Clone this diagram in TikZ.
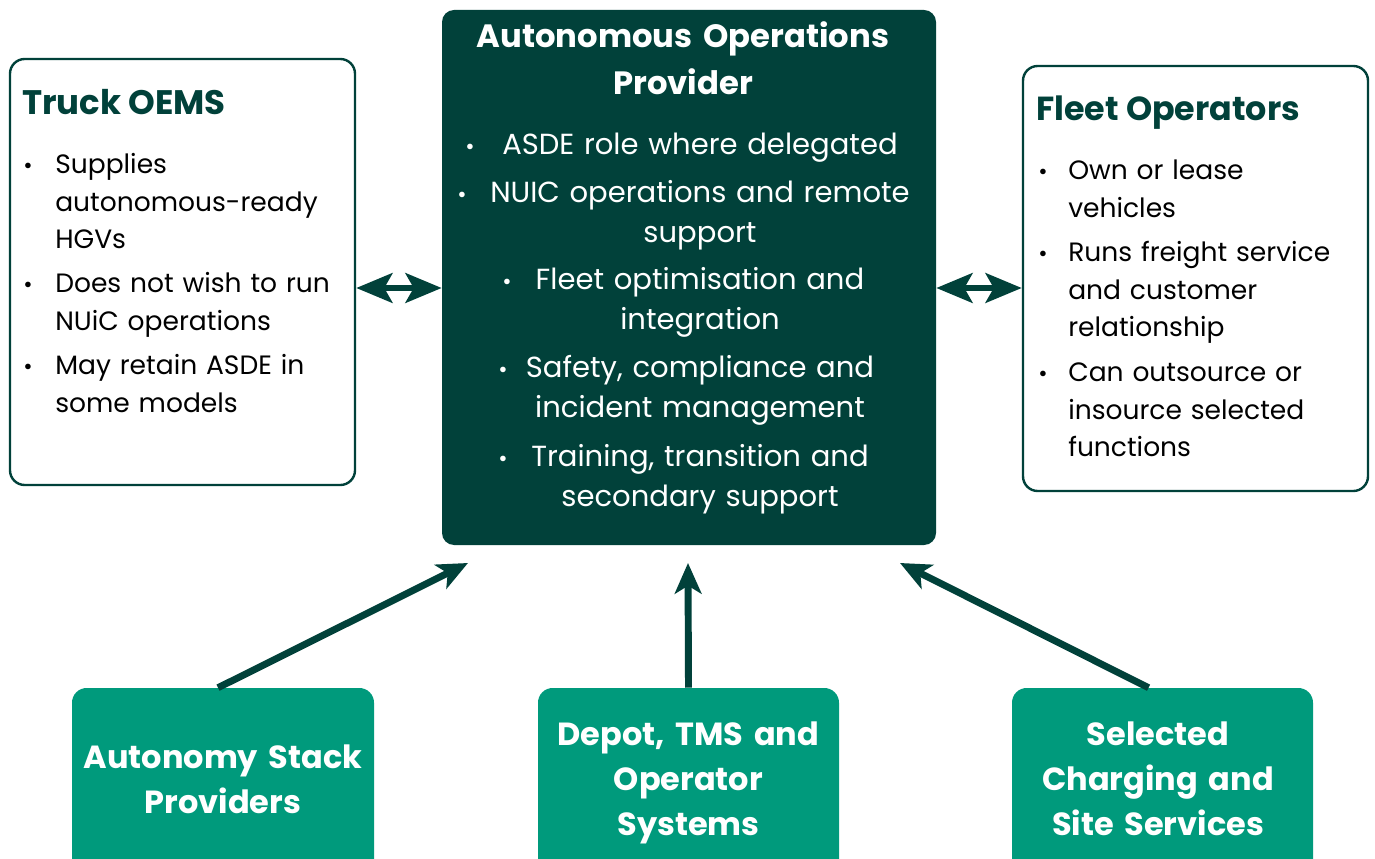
\documentclass[tikz,border=0pt]{standalone}
\usepackage{fontspec}
\setmainfont{Poppins}
\usetikzlibrary{arrows.meta}
\definecolor{aopgreen}{HTML}{01413A}
\definecolor{partnergreen}{HTML}{009A7C}

\begin{document}
\begin{tikzpicture}[x=0.75pt, y=-0.75pt,
    sidebox/.style={draw=aopgreen, line width=1.8pt, fill=white, rounded corners=11pt, inner sep=0pt},
    corebox/.style={fill=aopgreen, rounded corners=9pt, inner sep=0pt},
    partnerbox/.style={fill=partnergreen, rounded corners=11pt, inner sep=0pt},
    sidetitle/.style={font=\fontsize{25}{28}\selectfont\bfseries, text=aopgreen, anchor=base west, inner sep=0pt},
    item/.style={font=\fontsize{19.9}{28}\selectfont, anchor=base west, inner sep=0pt, text width=240pt, align=left},
    coreitem/.style={font=\fontsize{21.8}{30}\selectfont, text=white, anchor=base, inner sep=0pt, text width=340pt, align=center},
    dot/.style={font=\fontsize{17}{17}\selectfont, anchor=base, inner sep=0pt},
    partnertext/.style={font=\fontsize{24}{34}\selectfont\bfseries, text=white, anchor=base, inner sep=0pt, text width=220pt, align=center},
    link/.style={aopgreen, line width=5.2pt, {Stealth[length=27pt, width=22pt, inset=6pt]}-{Stealth[length=27pt, width=22pt, inset=6pt]}},
    feed/.style={aopgreen, line width=5.2pt, -{Stealth[length=23pt, width=20pt, inset=6pt]}}]

    % Fix the page size
    \useasboundingbox (0,0) rectangle (1375,859);

    % Draw the boxes
    \node[sidebox, minimum width=258.75pt, minimum height=319.5pt] (oem) at (182.5,272) {};
    \node[corebox, minimum width=370.5pt, minimum height=401.25pt] (aop) at (689,277.5) {};
    \node[sidebox, minimum width=258.75pt, minimum height=318.75pt] (fleet) at (1195.5,278.5) {};
    \node[partnerbox, minimum width=226.5pt, minimum height=159pt] (stack) at (223,794) {};
    \node[partnerbox, minimum width=225.75pt, minimum height=159pt] (depot) at (688.5,794) {};
    \node[partnerbox, minimum width=225.75pt, minimum height=159pt] (charge) at (1162.5,794) {};

    % Truck OEMs
    \node[sidetitle, font=\fontsize{25.5}{28}\selectfont\bfseries] (oemtitle) at (22,115) {Truck OEMS};
    \node[dot] (oemdot1) at (28,174) {•};
    \node[item] (oemitem1) at (55,174) {Supplies\\autonomous-ready\\HGVs};
    \node[dot] (oemdot2) at (28,293) {•};
    \node[item] (oemitem2) at (55,293) {Does not wish to run\\NUiC operations};
    \node[dot] (oemdot3) at (28,375) {•};
    \node[item] (oemitem3) at (55,375) {May retain ASDE in\\some models};

    % Autonomous operations provider
    \node[partnertext, text width=330pt, font=\fontsize{24.2}{35}\selectfont\bfseries] (aoptitle) at (683,48) {Autonomous Operations\\Provider};
    \node[dot, text=white] (aopdot1) at (470,155) {•};
    \node[coreitem] (aopitem1) at (700,155) {ASDE role where delegated};
    \node[dot, text=white] (aopdot2) at (462,203) {•};
    \node[coreitem] (aopitem2) at (700,203) {NUIC operations and remote\\support};
    \node[dot, text=white] (aopdot3) at (507,290) {•};
    \node[coreitem] (aopitem3) at (700,290) {Fleet optimisation and\\integration};
    \node[dot, text=white] (aopdot4) at (503,378) {•};
    \node[coreitem] (aopitem4) at (700,378) {Safety, compliance and\\incident management};
    \node[dot, text=white] (aopdot5) at (503,466) {•};
    \node[coreitem] (aopitem5) at (700,466) {Training, transition and\\secondary support};

    % Fleet operators
    \node[sidetitle] (fleettitle) at (1036,121) {Fleet Operators};
    \node[dot] (fleetdot1) at (1043,180) {•};
    \node[item] (fleetitem1) at (1068,180) {Own or lease\\vehicles};
    \node[dot] (fleetdot2) at (1043,262) {•};
    \node[item] (fleetitem2) at (1068,262) {Runs freight service\\and customer\\relationship};
    \node[dot] (fleetdot3) at (1043,382) {•};
    \node[item] (fleetitem3) at (1068,382) {Can outsource or\\insource selected\\functions};

    % Partner boxes
    \node[partnertext] (stacktext) at (223,768) {Autonomy Stack\\Providers};
    \node[partnertext] (depottext) at (688.5,745) {Depot, TMS and\\Operator\\Systems};
    \node[partnertext] (chargetext) at (1158,745) {Selected\\Charging and\\Site Services};

    % Draw the two-way links
    \draw[link] (oem.east |- 0,288) -- (aop.west |- 0,288);
    \draw[link] (aop.east |- 0,288) -- (fleet.west |- 0,288);

    % Draw the feeds into the provider
    \coordinate (feedleft) at (468,563);
    \coordinate (feedmid) at (688,563);
    \coordinate (feedright) at (900,563);
    \draw[feed] ([xshift=-3.75pt]stack.north) -- (feedleft);
    \draw[feed] (depot.north) -- (feedmid);
    \draw[feed] ([xshift=-10.5pt]charge.north) -- (feedright);
\end{tikzpicture}
\end{document}
